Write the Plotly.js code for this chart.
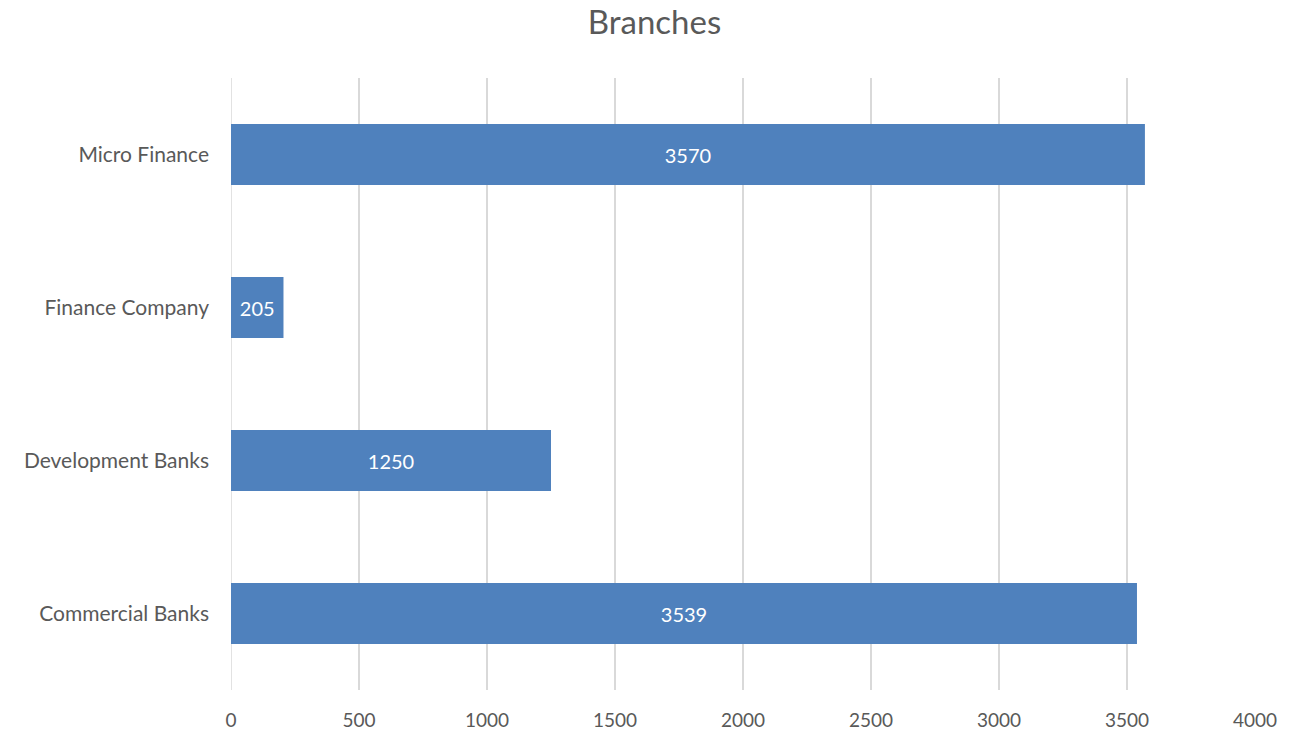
<!DOCTYPE html>
<html>
<head>
<meta charset="utf-8">
<script src="https://cdn.plot.ly/plotly-3.0.1.min.js"></script>
<style>html,body{margin:0;padding:0;background:#fff;}#chart{width:1309px;height:735px;}</style>
</head>
<body>
<div id="chart"></div>
<script>
const categories = ["Commercial Banks", "Development Banks", "Finance Company", "Micro Finance"];
const branches = [3539, 1250, 205, 3570];
const xTicks = [0, 500, 1000, 1500, 2000, 2500, 3000, 3500, 4000];

const font = "Lato, 'Open Sans', 'Liberation Sans', sans-serif";
const trace = {
  type: "bar",
  orientation: "h",
  y: categories,
  x: branches,
  marker: {color: "#4F81BD"},
  text: branches.map(String),
  textposition: "inside",
  insidetextanchor: "middle",
  textfont: {color: "#ffffff", size: 20, family: font},
  hoverinfo: "none"
};
const layout = {
  width: 1309, height: 735,
  margin: {l: 231, r: 54, t: 78, b: 45},
  paper_bgcolor: "#ffffff", plot_bgcolor: "#ffffff",
  title: {text: "Branches", font: {size: 33, color: "#595959", family: font}, x: 0.5, xanchor: "center", y: 0.97, yanchor: "middle"},
  bargap: 0.6,
  showlegend: false,
  xaxis: {
    range: [0, 4000], tickvals: xTicks, ticktext: xTicks.map(String),
    showgrid: true, gridcolor: "#D9D9D9", gridwidth: 1.5,
    zeroline: false, showline: false, ticks: "",
    tickfont: {size: 19, color: "#595959", family: font},
    ticklabelstandoff: 17, fixedrange: true
  },
  yaxis: {
    type: "category", categoryorder: "array", categoryarray: categories,
    showgrid: false, zeroline: false, showline: false, ticks: "",
    tickfont: {size: 21, color: "#595959", family: font},
    ticklabelstandoff: 21, fixedrange: true
  },
  shapes: [{type: "line", xref: "x", yref: "paper", x0: 0, x1: 0, y0: 0, y1: 1, line: {color: "#D9D9D9", width: 1.5}, layer: "below"}]
};
Plotly.newPlot("chart", [trace], layout, {displayModeBar: false, staticPlot: true});
</script>
</body>
</html>
